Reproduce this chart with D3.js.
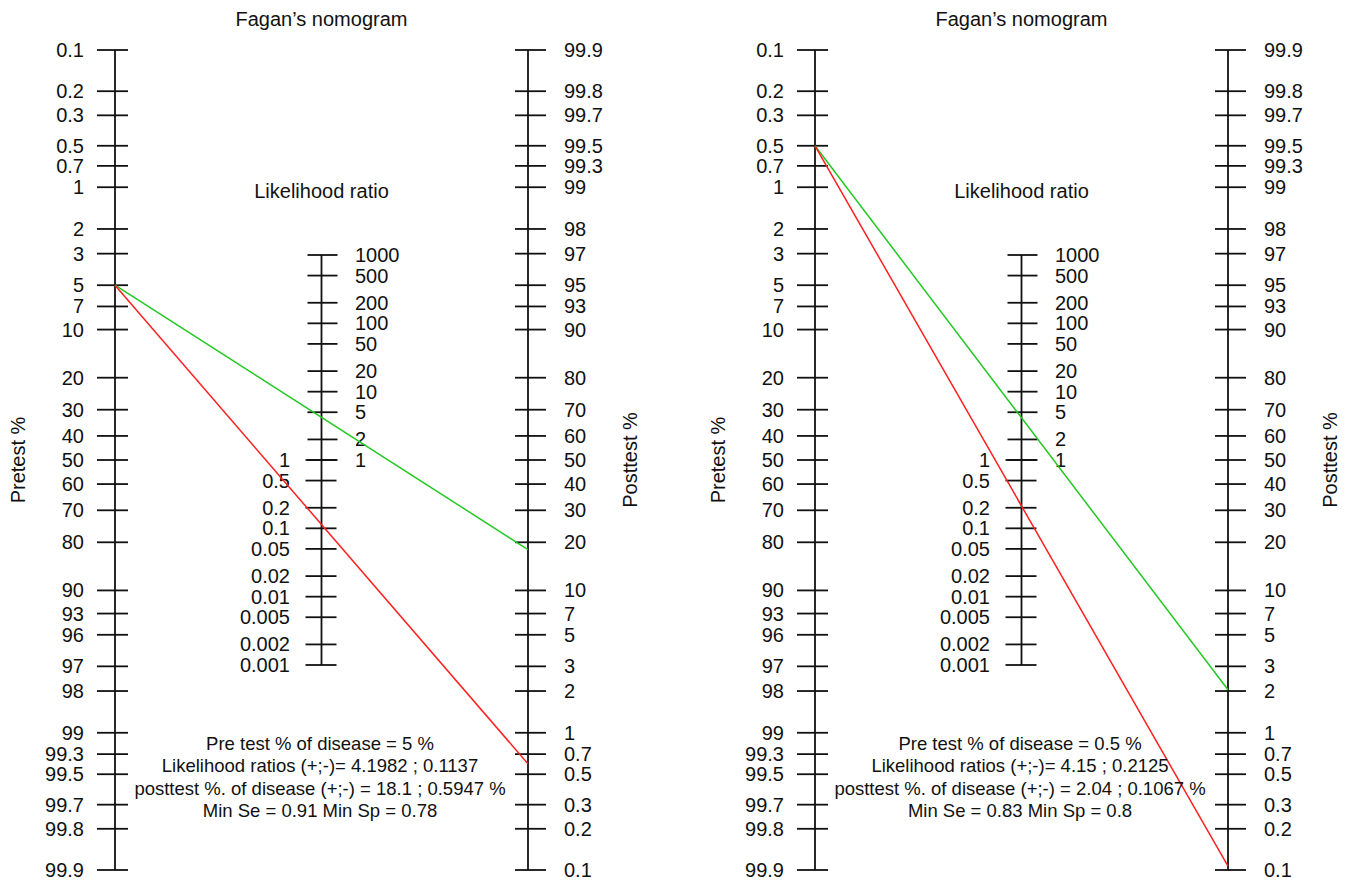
<!DOCTYPE html>
<html>
<head>
<meta charset="utf-8">
<script src="https://cdn.jsdelivr.net/npm/d3@7"></script>
<style>
  html, body { margin: 0; padding: 0; background: #fff; }
  svg text { font-family: "Liberation Sans", Arial, Helvetica, sans-serif; fill: #111; }
</style>
</head>
<body>
<svg id="chart" width="1348" height="881"></svg>
<script>
// ---- data ----
const pretestTicks = [0.1,0.2,0.3,0.5,0.7,1,2,3,5,7,10,20,30,40,50,60,70,80,90,93,95,97,98,99,99.3,99.5,99.7,99.8,99.9];
const pretestLabels = ["0.1","0.2","0.3","0.5","0.7","1","2","3","5","7","10","20","30","40","50","60","70","80","90","93","96","97","98","99","99.3","99.5","99.7","99.8","99.9"];
const posttestTicks = [99.9,99.8,99.7,99.5,99.3,99,98,97,95,93,90,80,70,60,50,40,30,20,10,7,5,3,2,1,0.7,0.5,0.3,0.2,0.1];
const posttestLabels = ["99.9","99.8","99.7","99.5","99.3","99","98","97","95","93","90","80","70","60","50","40","30","20","10","7","5","3","2","1","0.7","0.5","0.3","0.2","0.1"];
const lrUpperTicks = [1000,500,200,100,50,20,10,5,2,1];
const lrLowerTicks = [1,0.5,0.2,0.1,0.05,0.02,0.01,0.005,0.002,0.001];

const pretestValues = [5, 0.5];
const lrPositive = [4.1982, 4.15];
const lrNegative = [0.1137, 0.2125];
const posttestPositive = [18.1, 2.04];
const posttestNegative = [0.5947, 0.1067];
const minSe = [0.91, 0.83];
const minSp = [0.78, 0.8];
const lrPosLabels = ["4.1982", "4.15"];
const lrNegLabels = ["0.1137", "0.2125"];
const postPosLabels = ["18.1", "2.04"];
const postNegLabels = ["0.5947", "0.1067"];

// ---- layout ----
const svg = d3.select("#chart");
const panelOffsets = [0, 700];
const xPre = 115, xLR = 321.5, xPost = 528;
const yTop = 50, yBottom = 870;

const logit = p => Math.log(p / (1 - p));
const logitScale = d3.scaleLinear().domain([logit(0.001), logit(0.999)]).range([yTop, yBottom]);
const yPre = v => logitScale(logit(v / 100));
const yPost = v => logitScale(-logit(v / 100));
const yLR = d3.scaleLog().domain([0.001, 1000]).range([665, 255]);

const green = "#22c822", red = "#ff1f1f";

panelOffsets.forEach((off, i) => {
  const g = svg.append("g").attr("transform", `translate(${off},0)`);

  // title
  g.append("text").attr("x", xLR).attr("y", 26).attr("text-anchor", "middle")
    .style("font-size", "20px").text("Fagan\u2019s nomogram");
  g.append("text").attr("x", xLR).attr("y", 198).attr("text-anchor", "middle")
    .style("font-size", "20px").text("Likelihood ratio");

  // pretest axis
  g.append("line").attr("x1", xPre).attr("x2", xPre).attr("y1", yPre(0.1)).attr("y2", yPre(99.9))
    .attr("stroke", "#111").attr("stroke-width", 1.8);
  pretestTicks.forEach((t, j) => {
    const y = yPre(t);
    g.append("line").attr("x1", xPre - 18).attr("x2", xPre + 13).attr("y1", y).attr("y2", y)
      .attr("stroke", "#111").attr("stroke-width", 1.8);
    g.append("text").attr("x", 84).attr("y", y).attr("dy", "0.35em").attr("text-anchor", "end")
      .style("font-size", "20px").text(pretestLabels[j]);
  });

  // posttest axis
  g.append("line").attr("x1", xPost).attr("x2", xPost).attr("y1", yPost(99.9)).attr("y2", yPost(0.1))
    .attr("stroke", "#111").attr("stroke-width", 1.8);
  posttestTicks.forEach((t, j) => {
    const y = yPost(t);
    g.append("line").attr("x1", xPost - 13).attr("x2", xPost + 18).attr("y1", y).attr("y2", y)
      .attr("stroke", "#111").attr("stroke-width", 1.8);
    g.append("text").attr("x", 564).attr("y", y).attr("dy", "0.35em").attr("text-anchor", "start")
      .style("font-size", "20px").text(posttestLabels[j]);
  });

  // LR axis
  g.append("line").attr("x1", xLR).attr("x2", xLR).attr("y1", yLR(1000)).attr("y2", yLR(0.001))
    .attr("stroke", "#111").attr("stroke-width", 1.8);
  lrUpperTicks.forEach(t => {
    const y = yLR(t);
    g.append("line").attr("x1", xLR - 14).attr("x2", xLR + 16).attr("y1", y).attr("y2", y)
      .attr("stroke", "#111").attr("stroke-width", 1.8);
    g.append("text").attr("x", 355).attr("y", y).attr("dy", "0.35em").attr("text-anchor", "start")
      .style("font-size", "20px").text(d3.format("~g")(t));
  });
  lrLowerTicks.forEach(t => {
    const y = yLR(t);
    g.append("line").attr("x1", xLR - 16).attr("x2", xLR + 15).attr("y1", y).attr("y2", y)
      .attr("stroke", "#111").attr("stroke-width", 1.8);
    g.append("text").attr("x", 290).attr("y", y).attr("dy", "0.35em").attr("text-anchor", "end")
      .style("font-size", "20px").text(String(t));
  });

  // axis titles
  g.append("text").attr("transform", `translate(25,${460}) rotate(-90)`).attr("text-anchor", "middle")
    .style("font-size", "20px").text("Pretest %");
  g.append("text").attr("transform", `translate(637,${460}) rotate(-90)`).attr("text-anchor", "middle")
    .style("font-size", "20px").text("Posttest %");

  // lines
  g.append("line").attr("x1", xPre).attr("y1", yPre(pretestValues[i]))
    .attr("x2", xPost).attr("y2", yPost(posttestPositive[i]))
    .attr("stroke", green).attr("stroke-width", 1.5);
  g.append("line").attr("x1", xPre).attr("y1", yPre(pretestValues[i]))
    .attr("x2", xPost).attr("y2", yPost(posttestNegative[i]))
    .attr("stroke", red).attr("stroke-width", 1.5);

  // info text
  const lines = [
    `Pre test % of disease = ${pretestValues[i]} %`,
    `Likelihood ratios (+;-)= ${lrPosLabels[i]} ; ${lrNegLabels[i]}`,
    `posttest %. of disease (+;-) = ${postPosLabels[i]} ; ${postNegLabels[i]} %`,
    `Min Se = ${minSe[i]} Min Sp = ${minSp[i]}`
  ];
  lines.forEach((s, k) => {
    g.append("text").attr("x", 320).attr("y", 750 + k * 22.3).attr("text-anchor", "middle")
      .style("font-size", "18.5px").text(s);
  });
});
</script>
</body>
</html>
